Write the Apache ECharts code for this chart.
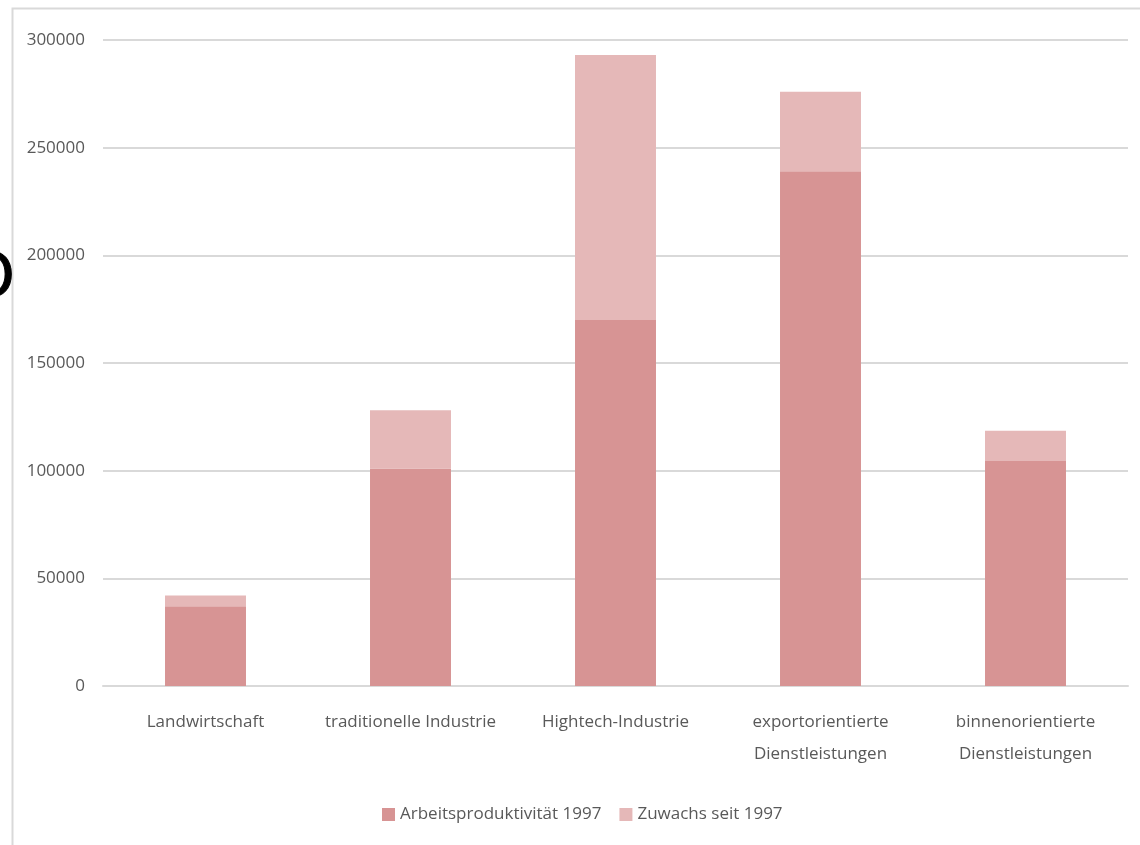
<!DOCTYPE html>
<html>
<head>
<meta charset="utf-8">
<script src="https://cdn.jsdelivr.net/npm/echarts@6/dist/echarts.min.js"></script>
<style>
  html, body { margin: 0; padding: 0; background: #ffffff; }
  #chart { width: 1140px; height: 845px; }
</style>
</head>
<body>
<div id="chart"></div>
<script>
const categories = [
  "Landwirtschaft",
  "traditionelle Industrie",
  "Hightech-Industrie",
  "exportorientierte\nDienstleistungen",
  "binnenorientierte\nDienstleistungen"
];
const productivity1997 = [37000, 101000, 170000, 239000, 104500];
const growthSince1997 = [5000, 27000, 123000, 37000, 14000];
const yTicks = [0, 50000, 100000, 150000, 200000, 250000, 300000];

const fontFamily = "'Open Sans', sans-serif";
const textColor = "#595959";

const chart = echarts.init(document.getElementById("chart"));

chart.setOption({
  animation: false,
  color: ["#d79494", "#e5b8b8"],
  textStyle: { fontFamily },
  grid: {
    left: 103,
    right: 12,
    top: 40,
    bottom: 159
  },
  graphic: [
    {
      type: "rect",
      shape: { x: 12.5, y: 8.5, width: 1200, height: 900 },
      style: { fill: null, stroke: "#d9d9d9", lineWidth: 2 },
      silent: true
    },
    {
      type: "text",
      left: -33,
      top: 250,
      style: {
        text: "O",
        fontSize: 60,
        fontFamily: "'DejaVu Sans', sans-serif",
        fill: "#000000",
        stroke: "#000000",
        lineWidth: 1
      },
      silent: true
    }
  ],
  legend: {
    left: 377,
    top: 801,
    itemWidth: 13,
    itemHeight: 13,
    itemGap: 18,
    icon: "rect",
    textStyle: { color: textColor, fontSize: 17, fontFamily }
  },
  xAxis: {
    type: "category",
    data: categories,
    axisLine: { lineStyle: { color: "#d9d9d9", width: 2 } },
    axisTick: { show: false },
    axisLabel: {
      color: textColor,
      fontSize: 17,
      lineHeight: 32,
      margin: 20,
      interval: 0
    }
  },
  yAxis: {
    type: "value",
    min: yTicks[0],
    max: yTicks[yTicks.length - 1],
    interval: 50000,
    axisLine: { show: false },
    axisTick: { show: false },
    splitLine: { lineStyle: { color: "#d9d9d9", width: 2 } },
    axisLabel: {
      color: textColor,
      fontSize: 17,
      margin: 18,
      formatter: (value) => String(value)
    }
  },
  series: [
    {
      name: "Arbeitsproduktivität 1997",
      type: "bar",
      stack: "total",
      barWidth: "39.5%",
      data: productivity1997
    },
    {
      name: "Zuwachs seit 1997",
      type: "bar",
      stack: "total",
      barWidth: "39.5%",
      data: growthSince1997
    }
  ]
});
</script>
</body>
</html>
